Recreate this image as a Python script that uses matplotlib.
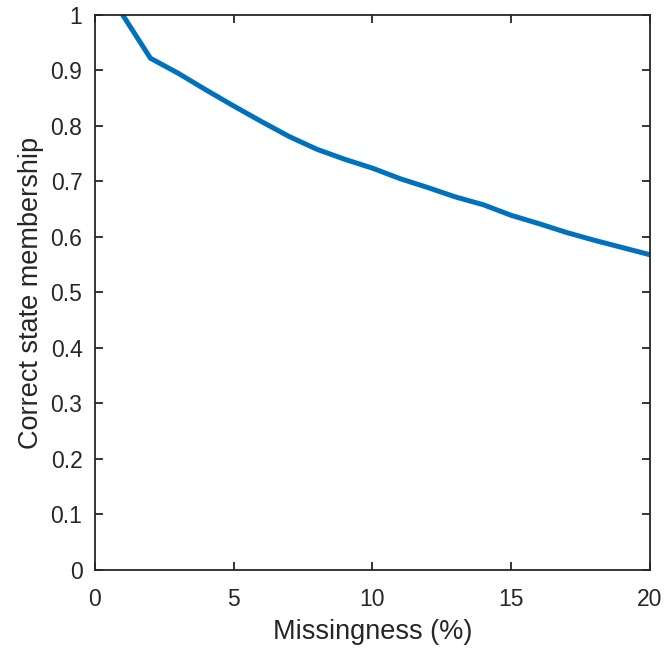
import matplotlib
matplotlib.use("Agg")
import matplotlib.pyplot as plt

plt.rcParams['font.family'] = ['Liberation Sans', 'DejaVu Sans']

missingness = [1, 2, 3, 4, 5, 6, 7, 8, 9, 10, 11, 12, 13, 14, 15, 16, 17, 18, 19, 20]
membership = [1.0, 0.922, 0.895, 0.865, 0.836, 0.808, 0.781, 0.758, 0.740, 0.724,
              0.705, 0.689, 0.672, 0.658, 0.639, 0.624, 0.608, 0.594, 0.581, 0.568]
x_ticks = [0, 5, 10, 15, 20]
y_ticks = [0, 0.1, 0.2, 0.3, 0.4, 0.5, 0.6, 0.7, 0.8, 0.9, 1]
y_tick_labels = ['0', '0.1', '0.2', '0.3', '0.4', '0.5', '0.6', '0.7', '0.8', '0.9', '1']

fig = plt.figure(figsize=(6.67, 6.52), dpi=100)
ax = fig.add_axes([0.1424, 0.1258, 0.8321, 0.8512])

ax.plot(missingness, membership, color='#0072BD', linewidth=3.6, solid_joinstyle='miter')

ax.set_xlim(0, 20)
ax.set_ylim(0, 1)
ax.set_xticks(x_ticks)
ax.set_xticklabels([str(t) for t in x_ticks])
ax.set_yticks(y_ticks)
ax.set_yticklabels(y_tick_labels)

edge = '#262626'
for s in ax.spines.values():
    s.set_color(edge)
    s.set_linewidth(1.3)
ax.tick_params(direction='in', length=6, width=1.3, color=edge, labelcolor=edge,
               labelsize=16.5, top=True, right=True)
ax.tick_params(axis='x', pad=13)
ax.tick_params(axis='y', pad=9)

ax.set_xlabel('Missingness (%)', fontsize=19.5, color=edge, labelpad=6)
ax.set_ylabel('Correct state membership', fontsize=19.5, color=edge, labelpad=5)

fig.savefig('out.png', dpi=100)
